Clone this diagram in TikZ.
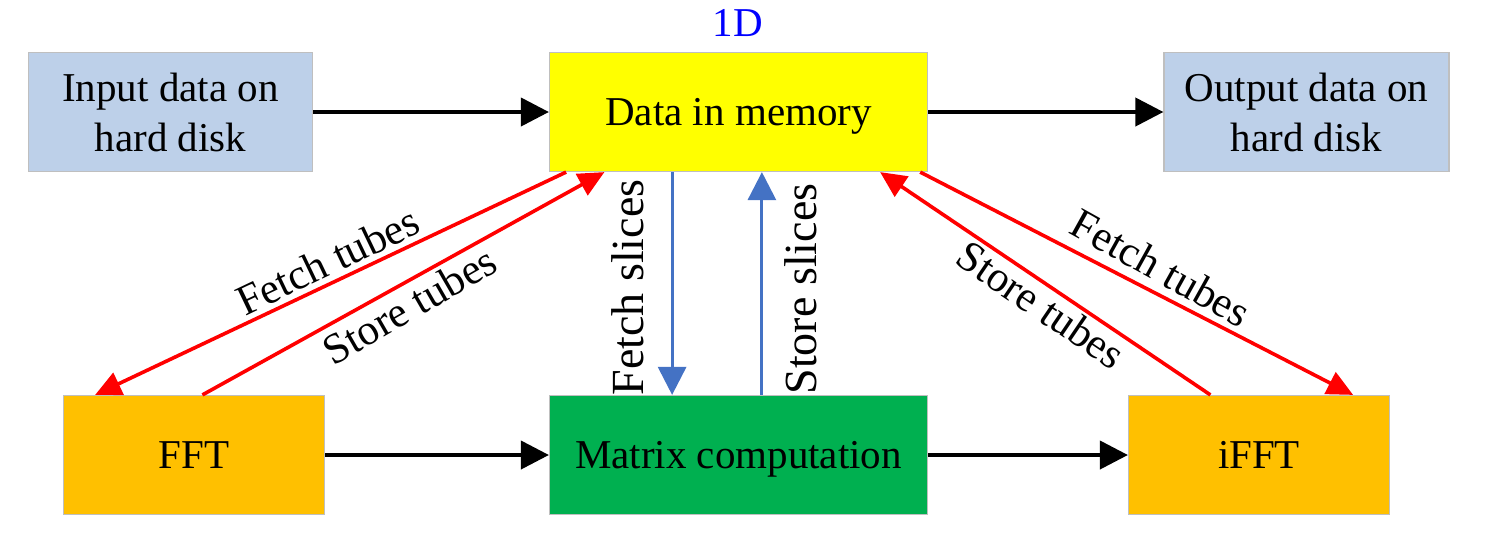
\documentclass[tikz,border=0pt]{standalone}
\usepackage{fontspec}
\setmainfont{Liberation Serif}
\usetikzlibrary{arrows.meta}
\definecolor{diskblue}{HTML}{BDD0E9}
\definecolor{memyellow}{HTML}{FFFF00}
\definecolor{fftorange}{HTML}{FFC000}
\definecolor{matgreen}{HTML}{00B050}
\definecolor{boxgray}{HTML}{BFBFBF}
\definecolor{slicesblue}{HTML}{4472C4}
\definecolor{tubered}{HTML}{FF0000}
\definecolor{labelblue}{HTML}{0000FF}
\begin{document}
\begin{tikzpicture}[x=0.5pt,y=-0.5pt,
  box/.style={draw=boxgray, line width=0.6pt, inner sep=0pt, minimum height=59.5pt, align=center, font=\fontsize{20.5}{25}\selectfont},
  onebox/.style={box, text height=20pt, text depth=6.5pt},
  flow/.style={line width=2pt, -{Triangle[length=14pt,width=14pt]}},
  slicearrow/.style={color=slicesblue, line width=1.5pt, -{Triangle[length=14pt,width=14pt]}},
  tubearrow/.style={color=tubered, line width=1.8pt, -{Triangle[length=13pt,width=12pt]}},
  tubelabel/.style={anchor=base, inner sep=0pt, font=\fontsize{21.5}{26}\selectfont},
  slicelabel/.style={anchor=base, inner sep=0pt, rotate=90, font=\fontsize{23}{28}\selectfont}
]
\useasboundingbox (0,0) rectangle (1486,552);

% boxes
\node[box, fill=diskblue, minimum width=142pt] (inp) at (170.5,112) {Input data on\\hard disk};
\node[onebox, fill=memyellow, minimum width=189pt] (mem) at (738.5,112) {Data in memory};
\node[box, fill=diskblue, minimum width=142.5pt] (out) at (1306.5,112) {Output data on\\hard disk};
\node[onebox, fill=fftorange, minimum width=130.5pt] (fft) at (194,455) {FFT};
\node[onebox, fill=matgreen, minimum width=189pt] (mat) at (738.5,455) {Matrix computation};
\node[onebox, fill=fftorange, minimum width=130.5pt] (ifft) at (1259,455) {iFFT};
\node[anchor=base, inner sep=0pt, text=labelblue, font=\fontsize{20.5}{25}\selectfont] (dim) at (738,36.7) {1D};

% main flow
\draw[flow] (inp) -- (mem);
\draw[flow] (mem) -- (out);
\draw[flow] (fft) -- (mat);
\draw[flow] (mat) -- (ifft);

% slices
\draw[slicearrow] ([xshift=61.6pt]mem.south west) -- ([xshift=61.6pt]mat.north west);
\draw[slicearrow] ([xshift=106.5pt]mat.north west) -- ([xshift=106.5pt]mem.south west);

% tubes
\draw[tubearrow] ([xshift=8.6pt]mem.south west) -- ([xshift=16.1pt]fft.north west);
\draw[tubearrow] ([xshift=69.75pt]fft.north west) -- ([xshift=27.75pt]mem.south west);
\draw[tubearrow] ([xshift=41.25pt]ifft.north west) -- ([xshift=165.6pt]mem.south west);
\draw[tubearrow] ([xshift=185.65pt]mem.south west) -- ([xshift=112.6pt]ifft.north west);

% labels
\node[tubelabel, rotate=25.5] (lfetch) at (334,274) {Fetch tubes};
\node[tubelabel, rotate=30] (lstore) at (417,318) {Store tubes};
\node[tubelabel, rotate=-29] (rfetch) at (1154,280.5) {Fetch tubes};
\node[tubelabel, rotate=-34.2] (rstore) at (1033,317) {Store tubes};
\node[slicelabel] (fslices) at (643,287.5) {Fetch slices};
\node[slicelabel] (sslices) at (816,289) {Store slices};
\end{tikzpicture}
\end{document}
